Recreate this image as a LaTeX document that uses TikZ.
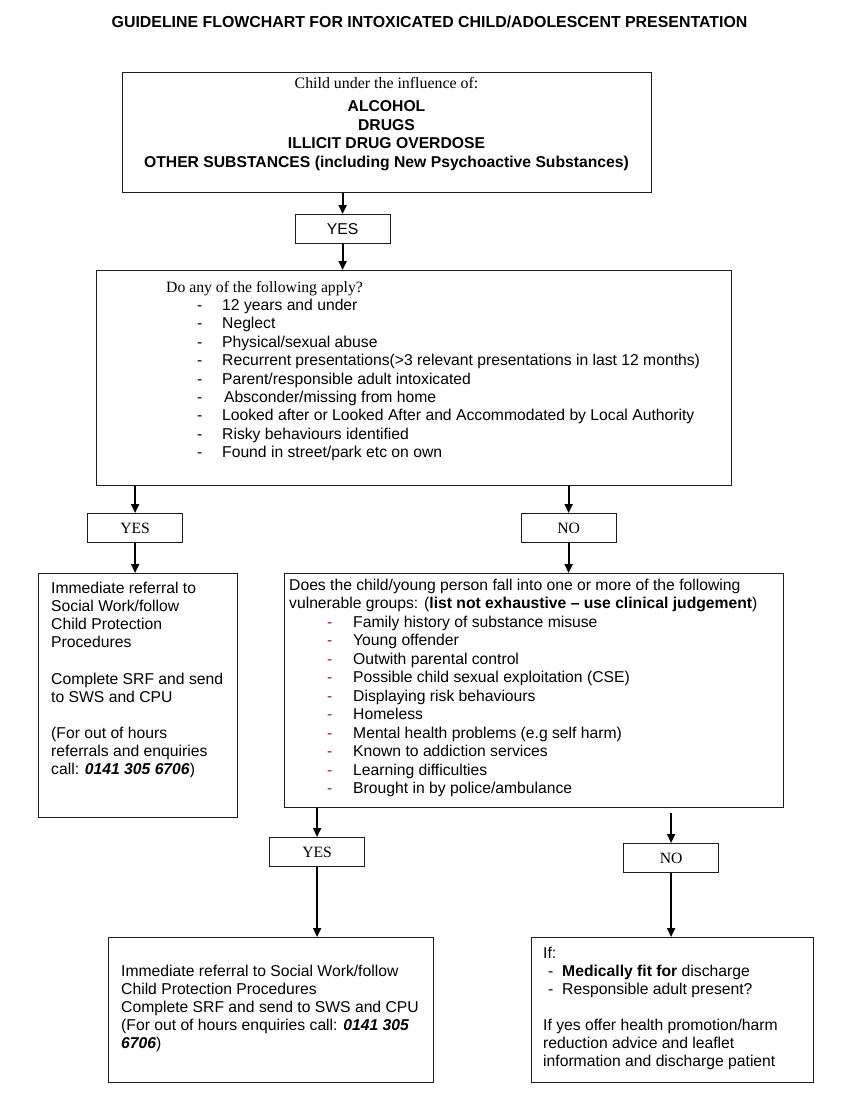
\documentclass[tikz,border=0pt]{standalone}
\usepackage{fontspec}
\setmainfont{Liberation Serif}
\setsansfont{Liberation Sans}
\usetikzlibrary{arrows.meta,calc}
\definecolor{dashred}{RGB}{125,35,25}
\definecolor{edge}{RGB}{30,30,30}
\newcommand\fsz[1]{\fontsize{15.7}{#1}\selectfont}
\newcommand\dl{\makebox[25pt][l]{-}}
\newcommand\dlr{\hspace*{38pt}\makebox[26pt][l]{\textcolor{dashred}{-}}}
\newcommand\dls{\makebox[19pt][l]{\hspace{5pt}-}}
\begin{document}
\begin{tikzpicture}[x=1pt,y=-1pt,
  box/.style={draw=edge, line width=1.2pt, inner sep=0pt, anchor=north west},
  lbl/.style={draw=edge, line width=1.2pt, inner sep=0pt, anchor=north west,
              minimum width=95pt, minimum height=29pt},
  arr/.style={line width=1.8pt, -{Triangle[length=9pt,width=8pt]}},
  txt/.style={inner sep=0pt, anchor=base west},
]
\fill[white] (0,0) rectangle (843,1098);
\useasboundingbox (0,0) rectangle (843,1098);

% title
\node[inner sep=0pt, anchor=base, font=\sffamily\bfseries\fontsize{15.9}{18}\selectfont] (title) at (429.5,27.5)
  {GUIDELINE FLOWCHART FOR INTOXICATED CHILD/ADOLESCENT PRESENTATION};

% boxes
\node[box, minimum width=529pt, minimum height=120pt] (b1) at (122,72) {};
\node[lbl, font=\sffamily\fsz{18}] (y1) at (294.5,214) {YES};
\node[box, minimum width=635pt, minimum height=215pt] (b2) at (96,270) {};
\node[lbl, font=\rmfamily\fsz{18}] (y2) at (87,513) {YES};
\node[lbl, font=\rmfamily\fsz{18}] (n1) at (520.5,513) {NO};
\node[box, minimum width=199pt, minimum height=244pt] (b3) at (38,573) {};
\node[box, minimum width=499pt, minimum height=234pt] (b4) at (284,573) {};
\node[lbl, font=\rmfamily\fsz{18}] (y3) at (269,837) {YES};
\node[lbl, font=\rmfamily\fsz{18}] (n2) at (623,843) {NO};
\node[box, minimum width=325pt, minimum height=145pt] (b5) at (108,937) {};
\node[box, minimum width=282pt, minimum height=145pt] (b6) at (531,937) {};

% box 1 text
\node[inner sep=0pt, anchor=base, font=\rmfamily\fontsize{15.9}{18}\selectfont] (t1a) at (386.5,88.5)
  {Child under the influence of:};
\node[inner sep=0pt, anchor=base, font=\sffamily\bfseries\fsz{18.5}] (t1b) at (386.5,111.5)
  {\begin{tabular}[t]{@{}c@{}}ALCOHOL\\DRUGS\\ILLICIT DRUG OVERDOSE\\
   OTHER SUBSTANCES (including New Psychoactive Substances)\end{tabular}};

% box 2 text
\node[txt, font=\rmfamily\fsz{18.4}] (t2a) at (166,292) {Do any of the following apply?};
\node[txt, font=\sffamily\fsz{18.4}] (t2b) at (197,310.5)
  {\begin{tabular}[t]{@{}l@{}}
   \dl 12 years and under\\
   \dl Neglect\\
   \dl Physical/sexual abuse\\
   \dl Recurrent presentations(>3 relevant presentations in last 12 months)\\
   \dl Parent/responsible adult intoxicated\\
   \dl \hspace*{2pt}Absconder/missing from home\\
   \dl Looked after or Looked After and Accommodated by Local Authority\\
   \dl Risky behaviours identified\\
   \dl Found in street/park etc on own
   \end{tabular}};

% box 3 text
\node[txt, font=\sffamily\fsz{18.1}] (t3) at (51,593.5)
  {\begin{tabular}[t]{@{}l@{}}
   Immediate referral to\\
   Social Work/follow\\
   Child Protection\\
   Procedures\\
   \\
   Complete SRF and send\\
   to SWS and CPU\\
   \\
   (For out of hours\\
   referrals and enquiries\\
   call: \textbf{\textit{0141 305 6706}})
   \end{tabular}};

% box 4 text
\node[txt, font=\sffamily\fsz{18.45}] (t4) at (289,590.5)
  {\begin{tabular}[t]{@{}l@{}}
   Does the child/young person fall into one or more of the following\\
   vulnerable groups: (\textbf{list not exhaustive – use clinical judgement})\\
   \dlr Family history of substance misuse\\
   \dlr Young offender\\
   \dlr Outwith parental control\\
   \dlr Possible child sexual exploitation (CSE)\\
   \dlr Displaying risk behaviours\\
   \dlr Homeless\\
   \dlr Mental health problems (e.g self harm)\\
   \dlr Known to addiction services\\
   \dlr Learning difficulties\\
   \dlr Brought in by police/ambulance
   \end{tabular}};

% box 5 text
\node[txt, font=\sffamily\fsz{18}] (t5) at (121,976.5)
  {\begin{tabular}[t]{@{}l@{}}
   Immediate referral to Social Work/follow\\
   Child Protection Procedures\\
   Complete SRF and send to SWS and CPU\\
   (For out of hours enquiries call: \textbf{\textit{0141 305}}\\
   \textbf{\textit{6706}})
   \end{tabular}};

% box 6 text
\node[txt, font=\sffamily\fsz{18}] (t6) at (543,958.5)
  {\begin{tabular}[t]{@{}l@{}}
   If:\\
   \dls\textbf{Medically fit for} discharge\\
   \dls Responsible adult present?\\
   \\
   If yes offer health promotion/harm\\
   reduction advice and leaflet\\
   information and discharge patient
   \end{tabular}};

% connectors
\draw[arr] (b1.south -| y1.north) -- (y1.north);
\draw[arr] (y1.south) -- (y1.south |- b2.north);
\draw[arr] (b2.south -| y2.north) -- (y2.north);
\draw[arr] (b2.south -| n1.north) -- (n1.north);
\draw[arr] (y2.south) -- (y2.south |- b3.north);
\draw[arr] (n1.south) -- (n1.south |- b4.north);
\draw[arr] (b4.south -| y3.north) -- (y3.north);
\coordinate (n2top) at ($(b4.south -| n2.north)+(0,5)$);
\draw[arr] (n2top) -- (n2.north);
\draw[arr] (y3.south) -- (y3.south |- b5.north);
\draw[arr] (n2.south) -- (n2.south |- b6.north);
\end{tikzpicture}
\end{document}
